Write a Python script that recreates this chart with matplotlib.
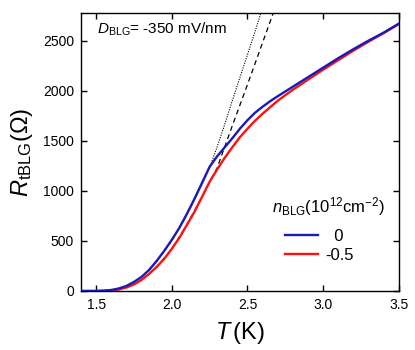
import numpy as np
import matplotlib
matplotlib.use('Agg')
import matplotlib.pyplot as plt

plt.rcParams['font.family'] = ['Liberation Sans', 'DejaVu Sans']
plt.rcParams['mathtext.fontset'] = 'custom'
plt.rcParams['mathtext.rm'] = 'Liberation Sans'
plt.rcParams['mathtext.it'] = 'Liberation Sans:italic'

# 温度 (K)
T = [1.40, 1.50, 1.55, 1.60, 1.65, 1.70, 1.75, 1.80, 1.85, 1.90, 1.95, 2.00,
     2.05, 2.10, 2.15, 2.20, 2.25, 2.30, 2.35, 2.40, 2.45, 2.50, 2.55, 2.60,
     2.65, 2.70, 2.80, 2.90, 3.00, 3.10, 3.20, 3.30, 3.40, 3.50]
# n = 0
R_0 = [0, 0, 3, 10, 25, 50, 90, 140, 210, 300, 400, 510,
       630, 770, 920, 1080, 1240, 1345, 1435, 1525, 1620, 1705, 1780, 1840,
       1895, 1945, 2040, 2135, 2230, 2325, 2415, 2500, 2580, 2670]
# n = -0.5
R_m05 = [0, 0, 2, 5, 15, 35, 65, 110, 170, 240, 320, 420,
         530, 660, 790, 940, 1090, 1215, 1330, 1435, 1535, 1620, 1700, 1770,
         1835, 1900, 2010, 2110, 2210, 2305, 2400, 2490, 2575, 2665]

# 拟合曲线
T_fit0 = [1.85, 1.90, 2.00, 2.10, 2.20, 2.25, 2.30, 2.35, 2.40, 2.45, 2.50, 2.55, 2.60]
R_fit0 = [200, 290, 500, 760, 1060, 1230, 1440, 1665, 1900, 2130, 2360, 2590, 2830]
T_fit1 = [1.85, 1.90, 2.00, 2.10, 2.20, 2.30, 2.35, 2.40, 2.45, 2.50, 2.55, 2.60, 2.65, 2.70]
R_fit1 = [170, 240, 420, 660, 940, 1230, 1440, 1650, 1855, 2060, 2270, 2480, 2690, 2900]

xticks = [1.5, 2.0, 2.5, 3.0, 3.5]
yticks = [0, 500, 1000, 1500, 2000, 2500]

fig = plt.figure(figsize=(4.15, 3.5), dpi=100)
ax = fig.add_axes([0.195, 0.1686, 0.766, 0.7954])

ax.plot(T_fit0, R_fit0, color='k', lw=0.8, linestyle=(0, (1, 1.2)), zorder=1)
ax.plot(T_fit1, R_fit1, color='k', lw=0.9, linestyle=(0, (4, 3)), zorder=1)
lRed, = ax.plot(T, R_m05, color='#ff1010', lw=1.7, label='-0.5', zorder=2)
lBlue, = ax.plot(T, R_0, color='#1a1abc', lw=1.7, label='  0', zorder=3)

ax.set_xlim(1.4, 3.5)
ax.set_ylim(0, 2780)
ax.set_xticks(xticks)
ax.set_xticklabels(['%.1f' % v for v in xticks])
ax.set_yticks(yticks)
ax.tick_params(direction='in', top=True, right=True, length=4, width=1,
               labelsize=10, pad=5)
for s in ax.spines.values():
    s.set_linewidth(1)

ax.set_xlabel(r'$T\,$(K)', fontsize=17, labelpad=6)
ax.set_ylabel(r'$R_{\mathrm{tBLG}}(\Omega)$', fontsize=17, labelpad=6)

ax.text(0.05, 0.925, r'$D_{\mathrm{BLG}}$= -350 mV/nm', transform=ax.transAxes,
        fontsize=11)

# 图例标题单独写
ax.text(0.60, 0.284, r'$n_{\mathrm{BLG}}(10^{12}\mathrm{cm}^{-2})$',
        transform=ax.transAxes, fontsize=12, va='baseline')
leg = ax.legend(handles=[lBlue, lRed], loc='center left',
                bbox_to_anchor=(0.616, 0.162), borderpad=0,
                frameon=False, fontsize=12,
                handlelength=2.0, handletextpad=0.4, labelspacing=0.2)

fig.savefig('out.png', dpi=100)
